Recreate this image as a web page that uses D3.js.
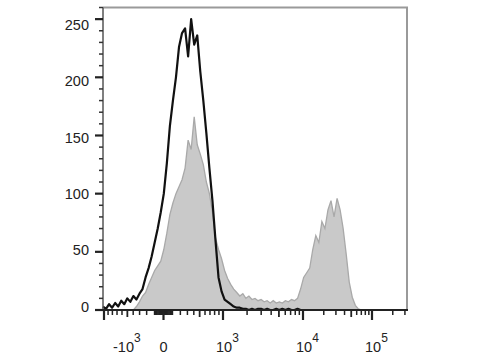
<!DOCTYPE html>
<html>
<head>
<meta charset="utf-8">
<script src="https://cdn.jsdelivr.net/npm/d3@7"></script>
<style>
  body { margin: 0; background: #fff; }
  text { font-family: "Liberation Sans", Arial, sans-serif; fill: #222; }
</style>
</head>
<body>
<div id="chart"></div>
<script>
// histogram counts, one value per display bin (bins evenly spaced across the x axis)
const binCount = 101;
const blackCounts = [
  3, 1, 5, 2, 6, 3, 8, 5, 10, 7,
  12, 9, 14, 18, 28, 36, 46, 58, 70, 84,
  100, 126, 158, 180, 200, 226, 238, 242, 218, 250,
  228, 236, 205, 180, 152, 122, 94, 60, 28, 16,
  9, 7, 5, 3, 2, 2, 1, 1, 0, 1,
  0, 1, 1, 0, 1, 0, 0, 1, 0, 1,
  0, 1, 0, 0, 1, 0, 0, 0, 0, 0,
  0, 0, 0, 0, 0, 0, 0, 0, 0, 0,
  0, 0, 0, 0, 0, 0, 0, 0, 0, 0,
  0, 0, 0, 0, 0, 0, 0, 0, 0, 0, 0
];
const greyCounts = [
  0, 0, 0, 0, 0, 0, 0, 0, 0, 0,
  0, 3, 7, 12, 15, 22, 28, 34, 38, 42,
  52, 66, 82, 92, 100, 106, 112, 122, 146, 138,
  166, 142, 134, 125, 110, 100, 84, 62, 52, 44,
  34, 27, 22, 18, 15, 12, 14, 10, 12, 9,
  10, 8, 9, 7, 8, 6, 8, 6, 7, 6,
  8, 7, 9, 8, 10, 18, 28, 32, 36, 52,
  64, 58, 76, 70, 86, 94, 80, 96, 86, 70,
  48, 24, 11, 4, 1, 0
];

const yMajor = [0, 50, 100, 150, 200, 250];
const yMinor = d3.range(0, 261, 10);

// x axis ticks (fluorescence values)
const xMajor = [-1000, 0, 1000, 10000, 100000];
const xMedium = [-500, 500, 5000, 50000];
const xMinor = [
  -900, -800, -700, -600, -400, -300, -200, -100,
  -90, -80, -70, -60, -50, -40, -30, -20, -10,
  10, 20, 30, 40, 50, 60, 70, 80, 90,
  100, 200, 300, 400, 600, 700, 800, 900,
  2000, 3000, 4000, 6000, 7000, 8000, 9000,
  20000, 30000, 40000, 60000, 70000, 80000, 90000,
  200000, 300000
];
const xLabels = [
  { v: -1000, base: "-10", exp: "3" },
  { v: 0, base: "0", exp: "" },
  { v: 1000, base: "10", exp: "3" },
  { v: 10000, base: "10", exp: "4" },
  { v: 100000, base: "10", exp: "5" }
];

const width = 480, height = 360;
const plotLeft = 103, plotRight = 407, plotTop = 7.5, plotBottom = 310;

const svg = d3.select("#chart").append("svg")
  .attr("width", width)
  .attr("height", height);

const y = d3.scaleLinear().domain([0, 260]).range([plotBottom, plotTop]);
// label centres sit slightly off their ticks in the original
const yLab = d3.scaleLinear().domain([0, 250]).range([306.5, 24.5]);

const xBin = d3.scaleLinear().domain([0, binCount - 1]).range([plotLeft, plotRight]);

// biexponential-like display: symlog near zero, log above 10^3
const xInner = d3.scaleSymlog().constant(700).domain([-1000, 1000]).range([104, 223]);
const xOuter = d3.scaleLog().domain([1000, 10000, 100000, 316228]).range([223, 303, 372, 406.5]);
function xv(v) { return v <= 1000 ? xInner(v) : xOuter(v); }

// grey filled histogram
const area = d3.area()
  .x((d, i) => xBin(i))
  .y0(plotBottom)
  .y1(d => y(d));
const histLine = d3.line()
  .x((d, i) => xBin(i))
  .y(d => y(d));

svg.append("path")
  .datum(greyCounts)
  .attr("d", area)
  .attr("fill", "#c9c9c9");
svg.append("path")
  .datum(greyCounts)
  .attr("d", histLine)
  .attr("fill", "none")
  .attr("stroke", "#a9a9a9")
  .attr("stroke-width", 1.3);

// black outline histogram
svg.append("path")
  .datum(blackCounts)
  .attr("d", histLine)
  .attr("fill", "none")
  .attr("stroke", "#111")
  .attr("stroke-width", 2.2)
  .attr("stroke-linejoin", "round");

// frame: grey top/right, dark left/bottom
svg.append("path")
  .attr("d", `M${plotLeft},${plotTop}H${plotRight}V${plotBottom}`)
  .attr("fill", "none")
  .attr("stroke", "#9a9a9a")
  .attr("stroke-width", 2);
svg.append("line")
  .attr("x1", plotLeft).attr("x2", plotLeft)
  .attr("y1", plotTop).attr("y2", plotBottom)
  .attr("stroke", "#555").attr("stroke-width", 1.5);
svg.append("line")
  .attr("x1", plotLeft - 1).attr("x2", plotRight + 1)
  .attr("y1", plotBottom).attr("y2", plotBottom)
  .attr("stroke", "#222").attr("stroke-width", 2.2);

// y ticks
svg.selectAll(".ymin").data(yMinor.filter(v => v % 50 !== 0)).enter()
  .append("line")
  .attr("x1", plotLeft - 4).attr("x2", plotLeft)
  .attr("y1", d => y(d)).attr("y2", d => y(d))
  .attr("stroke", "#333").attr("stroke-width", 1.5);
svg.selectAll(".ymaj").data(yMajor).enter()
  .append("line")
  .attr("x1", plotLeft - 8).attr("x2", plotLeft)
  .attr("y1", d => y(d)).attr("y2", d => y(d))
  .attr("stroke", "#222").attr("stroke-width", 2.2);
svg.selectAll(".ylab").data(yMajor).enter()
  .append("text")
  .attr("x", 89)
  .attr("y", d => yLab(d))
  .attr("dy", "0.36em")
  .attr("text-anchor", "end")
  .style("font-size", "14.5px")
  .text(d => d);

// x ticks
function xTicks(vals, len, w) {
  svg.append("g").selectAll("line").data(vals).enter()
    .append("line")
    .attr("x1", d => xv(d)).attr("x2", d => xv(d))
    .attr("y1", plotBottom).attr("y2", plotBottom + len)
    .attr("stroke", "#222").attr("stroke-width", w);
}
xTicks(xMinor, 5, 1.5);
xTicks(xMedium, 7, 1.8);
xTicks(xMajor, 10, 2.2);

// x labels with superscript exponents
const xl = svg.selectAll(".xlab").data(xLabels).enter()
  .append("text")
  .attr("x", d => d.v === 0 ? xv(d.v) : (d.v < 0 ? xv(d.v) + 9 : xv(d.v) - 7))
  .attr("y", 352)
  .attr("text-anchor", d => d.v === 0 ? "middle" : "start")
  .style("font-size", "14.5px");
xl.append("tspan").text(d => d.base);
xl.append("tspan")
  .attr("dy", -10)
  .style("font-size", "12px")
  .text(d => d.exp);
</script>
</body>
</html>
